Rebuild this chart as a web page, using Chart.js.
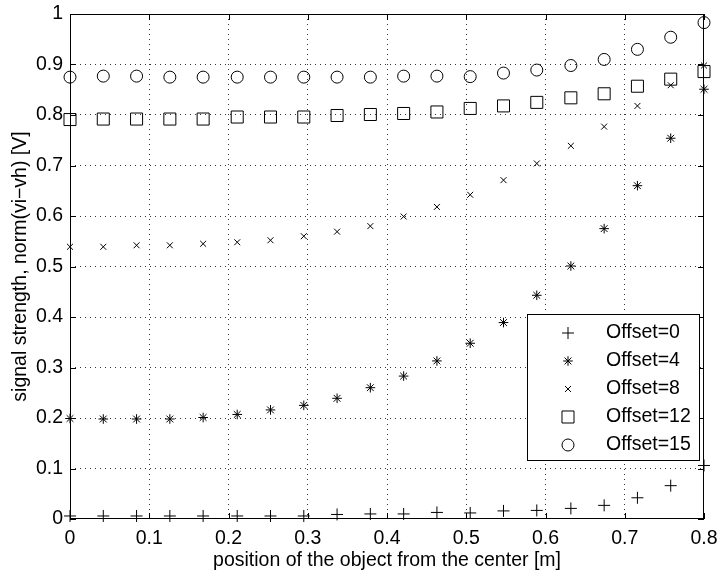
<!DOCTYPE html>
<html>
<head>
<meta charset="utf-8">
<script src="https://cdn.jsdelivr.net/npm/chart.js@4"></script>
<style>
  body { margin: 0; background: #fff; }
  #wrap { width: 722px; height: 574px; }
</style>
</head>
<body>
<div id="wrap"><canvas id="grafico" width="722" height="574"></canvas></div>
<script>
    // posiciones del objeto [m]
    const posiciones = [0, 0.042, 0.084, 0.126, 0.168, 0.211, 0.253, 0.295, 0.337, 0.379,
                        0.421, 0.463, 0.505, 0.547, 0.589, 0.632, 0.674, 0.716, 0.758, 0.8];

    // norm(vi-vh) [V] para cada offset
    const offset0  = [0.006, 0.006, 0.006, 0.006, 0.006, 0.006, 0.006, 0.006, 0.009, 0.010,
                      0.010, 0.013, 0.012, 0.016, 0.017, 0.021, 0.027, 0.042, 0.066, 0.106];
    const offset4  = [0.199, 0.198, 0.198, 0.198, 0.201, 0.207, 0.216, 0.225, 0.239, 0.260,
                      0.283, 0.313, 0.348, 0.389, 0.443, 0.501, 0.575, 0.660, 0.754, 0.851];
    const offset8  = [0.539, 0.539, 0.542, 0.542, 0.545, 0.548, 0.552, 0.560, 0.569, 0.580,
                      0.599, 0.618, 0.642, 0.671, 0.704, 0.739, 0.777, 0.818, 0.859, 0.898];
    const offset12 = [0.791, 0.792, 0.792, 0.792, 0.792, 0.796, 0.796, 0.796, 0.799, 0.801,
                      0.803, 0.806, 0.813, 0.818, 0.825, 0.834, 0.842, 0.857, 0.871, 0.886];
    const offset15 = [0.875, 0.877, 0.877, 0.875, 0.875, 0.875, 0.875, 0.875, 0.875, 0.875,
                      0.877, 0.877, 0.876, 0.883, 0.889, 0.898, 0.910, 0.930, 0.954, 0.983];

    const etiquetas = ['Offset=0', 'Offset=4', 'Offset=8', 'Offset=12', 'Offset=15'];
    const series = [offset0, offset4, offset8, offset12, offset15];
    const marcadores = ['cross', 'star', 'crossRot', 'rect', 'circle'];
    const radios = [6, 4.8, 4.2, 8.5, 6];

    const fuente = "'Liberation Sans', Arial, sans-serif";
    const tamFuente = 19.5;

    const datasets = series.map((vals, i) => ({
      label: etiquetas[i],
      data: posiciones.map((x, j) => ({ x: x, y: vals[j] })),
      showLine: false,
      pointStyle: marcadores[i],
      pointRadius: radios[i],
      pointBorderColor: '#000',
      pointBackgroundColor: 'rgba(0,0,0,0)',
      pointBorderWidth: 1,
      clip: false
    }));

    // marco completo + marcas hacia adentro (estilo matlab)
    const marcoPlugin = {
      id: 'marco',
      afterDraw(chart) {
        const { ctx, chartArea: a, scales } = chart;
        ctx.save();
        ctx.strokeStyle = '#000';
        ctx.lineWidth = 1;
        ctx.strokeRect(Math.round(a.left) + 0.5, Math.round(a.top) + 0.5,
                       Math.round(a.right - a.left) - 1, Math.round(a.bottom - a.top) - 1);
        const largo = 6;
        ctx.beginPath();
        scales.x.ticks.forEach(t => {
          const px = Math.round(scales.x.getPixelForValue(t.value)) + 0.5;
          ctx.moveTo(px, a.bottom); ctx.lineTo(px, a.bottom - largo);
          ctx.moveTo(px, a.top); ctx.lineTo(px, a.top + largo);
        });
        scales.y.ticks.forEach(t => {
          const py = Math.round(scales.y.getPixelForValue(t.value)) + 0.5;
          ctx.moveTo(a.left, py); ctx.lineTo(a.left + largo, py);
          ctx.moveTo(a.right, py); ctx.lineTo(a.right - largo, py);
        });
        ctx.stroke();

        // leyenda dentro del area
        const bx = Math.round(a.right - 177), by = Math.round(a.bottom - 205), bw = 172, bh = 146;
        ctx.fillStyle = '#fff';
        ctx.fillRect(bx, by, bw, bh);
        ctx.strokeRect(bx + 0.5, by + 0.5, bw, bh);
        ctx.font = tamFuente + 'px ' + fuente;
        ctx.textBaseline = 'middle';
        ctx.textAlign = 'left';
        chart.data.datasets.forEach((ds, i) => {
          const cy = by + 19 + i * 28;
          ctx.fillStyle = 'rgba(0,0,0,0)';
          ctx.strokeStyle = '#000';
          Chart.helpers.drawPoint(ctx, {
            pointStyle: ds.pointStyle, radius: ds.pointRadius, rotation: 0, borderWidth: 1
          }, bx + 41, cy);
          ctx.fillStyle = '#000';
          ctx.fillText(ds.label, bx + 79, cy);
        });
        ctx.restore();
      }
    };

    const grilla = {
      color: c => (c.index === 0 || c.tick.value >= (c.scale.max - 1e-9)) ? 'rgba(0,0,0,0)' : '#333',
      lineWidth: 1,
      drawTicks: true,
      tickColor: 'rgba(0,0,0,0)'
    };

    const formato = v => String(Math.round(v * 10) / 10);

    new Chart(document.getElementById('grafico').getContext('2d'), {
      type: 'scatter',
      data: { datasets: datasets },
      options: {
        responsive: false,
        animation: false,
        events: [],
        layout: { padding: { top: 14, right: 18, left: 0, bottom: 0 } },
        plugins: { legend: { display: false }, tooltip: { enabled: false } },
        scales: {
          x: {
            type: 'linear', min: 0, max: 0.8,
            border: { display: false, dash: [1, 4] },
            grid: Object.assign({ tickLength: 8 }, grilla),
            ticks: { stepSize: 0.1, color: '#000', padding: 0, font: { family: fuente, size: tamFuente }, callback: formato },
            title: { display: true, text: 'position of the object from the center [m]', color: '#000',
                     font: { family: fuente, size: tamFuente }, padding: { top: 0, bottom: 2 } },
            afterFit: s => { s.height = 55; }
          },
          y: {
            type: 'linear', min: 0, max: 1,
            border: { display: false, dash: [1, 4] },
            grid: Object.assign({ tickLength: 7 }, grilla),
            ticks: { stepSize: 0.1, color: '#000', padding: 0, font: { family: fuente, size: tamFuente }, callback: formato },
            title: { display: true, text: 'signal strength, norm(vi\u2212vh) [V]', color: '#000',
                     font: { family: fuente, size: tamFuente }, padding: { top: 9, bottom: 0 } },
            afterFit: s => { s.width = 70; }
          }
        }
      },
      plugins: [marcoPlugin]
    });
</script>
</body>
</html>
